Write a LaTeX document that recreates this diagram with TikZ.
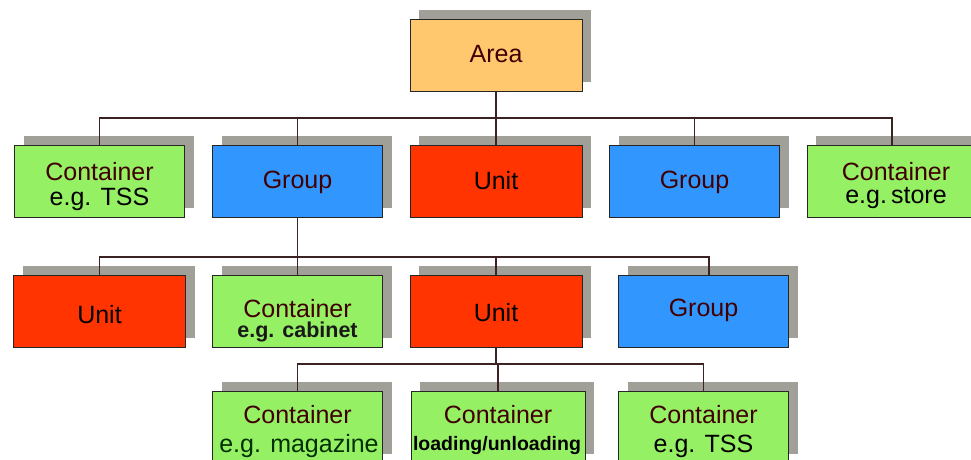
\documentclass[tikz,border=0pt]{standalone}
\usepackage{fontspec}
\setmainfont{Liberation Sans}
\usetikzlibrary{shadows}
\definecolor{areafill}{RGB}{255,200,110}
\definecolor{contfill}{RGB}{150,240,100}
\definecolor{groupfill}{RGB}{50,150,255}
\definecolor{unitfill}{RGB}{255,52,0}
\definecolor{shadowgray}{RGB}{160,160,152}
\definecolor{wire}{RGB}{60,35,35}
\definecolor{maroon}{RGB}{64,0,0}
\definecolor{darkgreen}{RGB}{0,48,0}
\tikzset{
  box/.style={draw=black!85, line width=0.9pt, minimum height=72pt, minimum width=170pt,
    inner sep=0pt, drop shadow={shadow xshift=9pt, shadow yshift=9pt, fill=shadowgray, opacity=1}},
  areabox/.style={box, fill=areafill, minimum width=172pt},
  contbox/.style={box, fill=contfill},
  groupbox/.style={box, fill=groupfill},
  unitbox/.style={box, fill=unitfill, minimum width=172pt},
  txt/.style={anchor=base, inner sep=0pt, font=\fontsize{25}{25}\selectfont},
  small/.style={anchor=base, inner sep=0pt, font=\bfseries\fontsize{21.5}{25}\selectfont},
  tiny/.style={anchor=base, inner sep=0pt, font=\bfseries\fontsize{19.5}{25}\selectfont},
  wire/.style={draw=wire, line width=1.2pt}
}
\begin{document}
\begin{tikzpicture}[x=1pt,y=-1pt]
\useasboundingbox (0,0) rectangle (971,459);
\clip (0,0) rectangle (971,459);

% boxes
\node[areabox]  (area)  at (496,55)  {};
\node[contbox]  (c1)    at (99.5,181) {};
\node[groupbox] (g1)    at (297.5,181) {};
\node[unitbox]  (u1)    at (496,181) {};
\node[groupbox] (g2)    at (694.5,181) {};
\node[contbox]  (c2)    at (892,181) {};
\node[unitbox]  (u2)    at (99.5,311) {};
\node[contbox]  (c3)    at (297.5,311) {};
\node[unitbox]  (u3)    at (496,311) {};
\node[groupbox] (g3)    at (703.5,311) {};
\node[contbox]  (c4)    at (297.5,427) {};
\node[contbox, minimum width=174pt] (c5) at (498,427) {};
\node[contbox]  (c6)    at (703.5,427) {};

% labels
\node[txt, text=maroon] (area-t) at (496,62) {Area};
\node[txt, text=maroon] (c1-a) at (99.5,180) {Container};
\node[txt, text=black]  (c1-b) at (99.5,205) {e.g. TSS};
\node[txt, text=maroon] (g1-t) at (297.5,188) {Group};
\node[txt, text=black]  (u1-t) at (496,189) {Unit};
\node[txt, text=maroon] (g2-t) at (694.5,188) {Group};
\node[txt, text=maroon] (c2-a) at (896,180) {Container};
\node[txt, text=black]  (c2-b) at (896,203) {e.g.\,store};
\node[txt, text=black]  (u2-t) at (99.5,323) {Unit};
\node[txt, text=maroon] (c3-a) at (297.5,317) {Container};
\node[small, text=black!90] (c3-b) at (297.5,337) {e.g. cabinet};
\node[txt, text=black]  (u3-t) at (496,321) {Unit};
\node[txt, text=maroon] (g3-t) at (703.5,316) {Group};
\node[txt, text=maroon] (c4-a) at (297.5,423) {Container};
\node[txt, text=darkgreen] (c4-b) at (299,452) {e.g. magazine};
\node[txt, text=maroon] (c5-a) at (498,423) {Container};
\node[tiny, text=black] (c5-b) at (497,450) {loading/unloading};
\node[txt, text=maroon] (c6-a) at (703.5,423) {Container};
\node[txt, text=black]  (c6-b) at (703.5,452) {e.g. TSS};

% bus lines
\coordinate (bus1) at (0,118);
\coordinate (bus2) at (0,257);
\coordinate (bus3) at (0,364);
\coordinate (g3top) at ([xshift=5.5pt]g3.north);

\draw[wire] (area.south) -- (area.south |- bus1);
\draw[wire] (c1.north) |- (bus1 -| c2.north) -- (c2.north);
\draw[wire] (g1.north) -- (g1.north |- bus1);
\draw[wire] (u1.north) -- (u1.north |- bus1);
\draw[wire] (g2.north) -- (g2.north |- bus1);

\draw[wire] (g1.south) -- (g1.south |- bus2);
\draw[wire] (u2.north) |- (bus2 -| g3top) -- (g3top);
\draw[wire] (c3.north) -- (c3.north |- bus2);
\draw[wire] (u3.north) -- (u3.north |- bus2);

\draw[wire] (u3.south) -- (u3.south |- bus3);
\draw[wire] (c4.north) |- (bus3 -| c6.north) -- (c6.north);
\draw[wire] (c5.north) -- (c5.north |- bus3);
\end{tikzpicture}
\end{document}
